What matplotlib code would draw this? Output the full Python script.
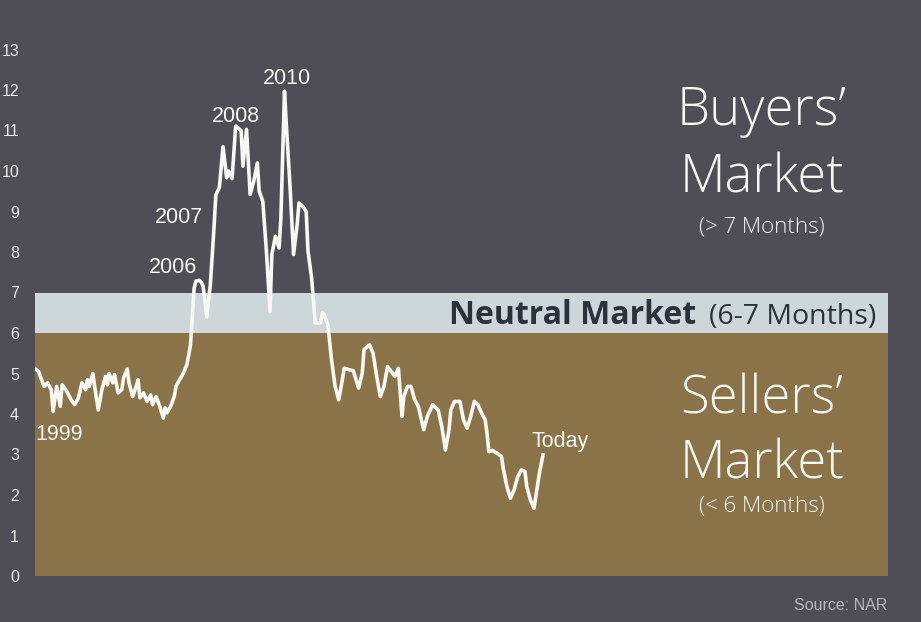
import matplotlib
matplotlib.use('Agg')
import matplotlib.pyplot as plt

# months supply of existing homes (month 0 = Jan 1999)
months = [0, 2, 4, 5, 7, 9, 10, 12, 14, 15, 17, 18, 20, 22, 24, 26, 28, 29, 30, 32,
          33, 35, 37, 39, 40, 41, 43, 44, 46, 48, 49, 51, 52, 54, 56, 57, 58, 60, 62, 64,
          65, 67, 69, 71, 72, 73, 75, 77, 78, 80, 82, 84, 85, 86, 87, 88, 89, 91, 92, 93,
          95, 97, 99, 100, 102, 104, 106, 107, 109, 111, 112, 114, 115, 117, 119, 121, 123, 124, 126, 128,
          130, 131, 133, 135, 136, 138, 139, 141, 143, 145, 146, 148, 150, 151, 153, 155, 158, 159, 160, 162,
          164, 166, 168, 170, 171, 174, 176, 179, 181, 182, 185, 187, 189, 191, 193, 195, 197, 199, 201, 203,
          204, 206, 208, 210, 212, 215, 217, 220, 223, 225, 227, 229, 230, 232, 235, 237, 239, 241, 243, 245,
          247, 249, 250, 251, 253, 256, 258, 259, 261, 263, 265, 267, 269, 271, 272, 274, 276, 277, 279, 281]
supply = [5.12, 5.05, 4.80, 4.68, 4.77, 4.60, 4.06, 4.68, 4.19, 4.72, 4.60, 4.52, 4.35, 4.23, 4.40, 4.77, 4.60, 4.85, 4.68, 5.00,
          4.68, 4.10, 4.60, 4.93, 4.72, 5.00, 4.77, 4.97, 4.52, 4.60, 4.89, 5.11, 4.77, 4.43, 4.68, 4.85, 4.40, 4.52, 4.31, 4.47,
          4.23, 4.43, 4.19, 3.90, 4.15, 4.03, 4.19, 4.43, 4.68, 4.85, 5.00, 5.22, 5.45, 5.70, 6.40, 7.10, 7.28, 7.30, 7.25, 7.15,
          6.40, 7.20, 8.60, 9.40, 9.60, 10.60, 9.83, 10.00, 9.81, 11.11, 11.07, 11.00, 10.12, 11.03, 9.42, 9.75, 10.20, 9.50, 9.25, 8.02,
          6.53, 7.94, 8.39, 8.10, 8.84, 11.97, 11.15, 9.67, 7.94, 8.68, 9.21, 9.13, 9.00, 8.02, 7.36, 6.25, 6.25, 6.50, 6.45, 6.20,
          5.34, 4.68, 4.35, 4.85, 5.13, 5.09, 5.07, 4.64, 5.01, 5.59, 5.71, 5.50, 4.93, 4.43, 4.68, 5.17, 5.05, 4.93, 5.13, 3.94,
          4.43, 4.68, 4.68, 4.35, 4.19, 3.61, 3.94, 4.23, 4.10, 3.69, 3.11, 3.61, 4.10, 4.31, 4.31, 3.86, 3.65, 3.94, 4.31, 4.23,
          4.02, 3.86, 3.53, 3.07, 3.10, 3.02, 2.95, 2.66, 2.21, 1.92, 2.13, 2.45, 2.62, 2.58, 2.21, 1.88, 1.67, 1.96, 2.54, 2.99]

year_labels = ['1999', '2006', '2007', '2008', '2010', 'Today']
label_x = [13.3, 76.3, 79.6, 110.9, 139.4, 290.4]
label_y = [3.36, 7.47, 8.71, 11.22, 12.15, 3.19]

bg = '#4f4e57'
brown = '#8b7349'
neutral = '#cdd7da'
white = '#f7f7f3'
big_font = ['Open Sans', 'DejaVu Sans']

fig = plt.figure(figsize=(9.21, 6.22), dpi=100, facecolor=bg)
ax = fig.add_axes([35 / 921, 46 / 622, 853 / 921, 567 / 622])
ax.set_facecolor(bg)
ax.set_xlim(0, 471.8)
ax.set_ylim(0, 14)

ax.axhspan(0, 6, color=brown, lw=0, zorder=1)
ax.axhspan(6, 7, color=neutral, lw=0, zorder=1)
ax.plot(months, supply, color=white, lw=2.6, zorder=3, solid_joinstyle='round')

for s in ax.spines.values():
    s.set_visible(False)
ax.set_xticks([])
ax.set_yticks(range(14))
ax.tick_params(axis='y', length=0, pad=11.5, labelsize=11.5, labelcolor='#ececec')
for t in ax.get_yticklabels():
    t.set_fontfamily('Liberation Sans')

for lab, x, y in zip(year_labels, label_x, label_y):
    ax.text(x, y, lab, color=white, fontsize=15.5, family='Liberation Sans',
            ha='center', va='baseline', zorder=4)

ax.text(402, 11.14, 'Buyers\u2019', color=white, fontsize=38, family=big_font,
        weight='light', ha='center', va='baseline')
ax.text(402, 9.46, 'Market', color=white, fontsize=38, family=big_font,
        weight='light', ha='center', va='baseline')
ax.text(402, 8.49, '(> 7 Months)', color=white, fontsize=16, family=big_font,
        weight='light', ha='center', va='baseline')

ax.text(402, 4.02, 'Sellers\u2019', color=white, fontsize=38, family=big_font,
        weight='light', ha='center', va='baseline')
ax.text(402, 2.41, 'Market', color=white, fontsize=38, family=big_font,
        weight='light', ha='center', va='baseline')
ax.text(402, 1.59, '(< 6 Months)', color=white, fontsize=16, family=big_font,
        weight='light', ha='center', va='baseline')

ax.text(365.6, 6.22, 'Neutral Market', color='#2b323c', fontsize=23, family=big_font,
        weight='bold', ha='right', va='baseline')
ax.text(372.8, 6.22, '(6-7 Months)', color='#2b323c', fontsize=20.5, family=big_font,
        ha='left', va='baseline')

fig.text(887 / 921, 12 / 622, 'Source: NAR', color='#b7b7bb', fontsize=11.5,
         family='Liberation Sans', ha='right', va='baseline')

fig.savefig('out.png', dpi=100, facecolor=bg)
